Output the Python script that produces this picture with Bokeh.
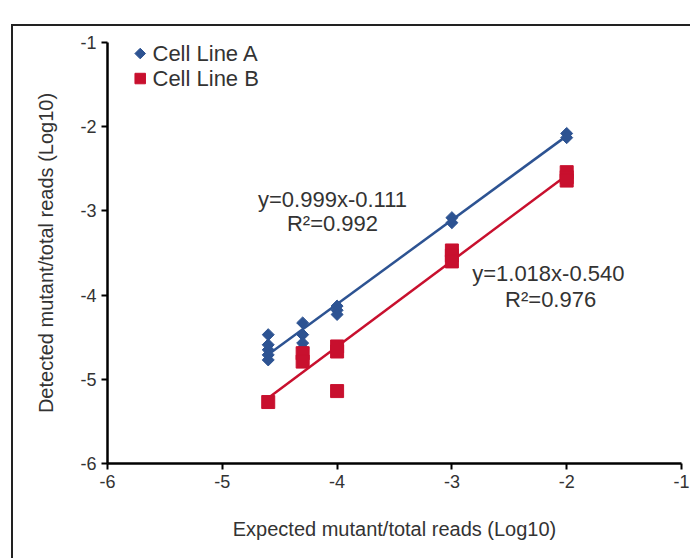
import math
from bokeh.plotting import figure
from bokeh.models import Range1d, Label, FixedTicker
from bokeh.embed import file_html
from bokeh.resources import INLINE

# Expected vs detected mutant fraction (log10), two cell lines
expected_a = [-4.6, -4.6, -4.6, -4.6, -4.6, -4.3, -4.3, -4.3, -4.3,
              -4.0, -4.0, -4.0, -3.0, -3.0, -2.0, -2.0]
detected_a = [-4.47, -4.59, -4.65, -4.71, -4.77, -4.33, -4.47, -4.57, -4.63,
              -4.13, -4.18, -4.23, -3.08, -3.14, -2.08, -2.13]

expected_b = [-4.6, -4.3, -4.3, -4.0, -4.0, -4.0, -3.0, -3.0, -3.0,
              -2.0, -2.0, -2.0]
detected_b = [-5.27, -4.69, -4.79, -4.61, -4.67, -5.14, -3.47, -3.53, -3.60,
              -2.54, -2.60, -2.64]

series_names = ["Cell Line A", "Cell Line B"]

# Linear fits reported on the chart
slope_a, intercept_a, r2_a = 0.999, -0.111, 0.992
slope_b, intercept_b, r2_b = 1.018, -0.540, 0.976
fit_x = [-4.6, -2.0]

ticks = [-6, -5, -4, -3, -2, -1]
tick_labels = {t: f"{t:d}" for t in ticks}   # plain hyphen-minus labels

BLUE = "#2d5392"
RED = "#c8102e"
TEXT = "#333333"
SANS = "Liberation Sans, Arial, sans-serif"

p = figure(width=679, height=534, output_backend="svg", toolbar_location=None,
           x_range=Range1d(-6, -1), y_range=Range1d(-6, -1),
           min_border_left=94, min_border_right=11,
           min_border_top=16, min_border_bottom=97)
# panel frame: dark rule on the top and left edges
p.styles = {"margin-left": "11px", "margin-top": "24px",
            "border-left": "2px solid #222222",
            "border-top": "2px solid #222222"}
p.outline_line_color = None
p.xgrid.visible = False
p.ygrid.visible = False
p.background_fill_color = "white"
p.border_fill_color = "white"

for ax in (p.xaxis[0], p.yaxis[0]):
    ax.ticker = FixedTicker(ticks=ticks)
    ax.major_label_overrides = tick_labels
    ax.minor_tick_line_color = None
    ax.axis_line_color = "black"
    ax.axis_line_width = 2.5
    ax.major_tick_line_color = "black"
    ax.major_tick_line_width = 2
    ax.major_tick_out = 6
    ax.major_tick_in = 0
    ax.major_label_text_font = SANS
    ax.major_label_text_font_size = "18px"
    ax.major_label_text_color = TEXT
    ax.axis_label_text_font = SANS
    ax.axis_label_text_font_size = "20px"
    ax.axis_label_text_font_style = "normal"
    ax.axis_label_text_color = TEXT
    ax.major_label_standoff = 5

p.xaxis.axis_label = "Expected mutant/total reads (Log10)"
p.yaxis.axis_label = "Detected mutant/total reads (Log10)"
p.xaxis.axis_label_standoff = 27
p.yaxis.axis_label_standoff = 20

# regression lines
fit_a = [slope_a * x + intercept_a for x in fit_x]
fit_b = [slope_b * x + intercept_b for x in fit_x]
p.line(fit_x, fit_a, line_color=BLUE, line_width=2.5)
p.line(fit_x, fit_b, line_color=RED, line_width=2.5)

# data points: blue diamonds (rotated squares) and red squares
diamond = dict(marker="square", angle=math.pi / 4, size=8.5,
               fill_color=BLUE, line_color=BLUE)
square = dict(marker="square", size=13, fill_color=RED, line_color=RED)
p.scatter(expected_a, detected_a, **diamond)
p.scatter(expected_b, detected_b, **square)

# key in the upper-left corner of the plot area
key_x, key_text_x = -5.715, -5.608
key_y = [-1.131, -1.428]
p.scatter([key_x], [key_y[0]], **dict(diamond, size=7.5))
p.scatter([key_x], [key_y[1]], **dict(square, size=10.5))
for name, ky in zip(series_names, key_y):
    p.add_layout(Label(x=key_text_x, y=ky, text=name, text_align="left",
                       text_baseline="middle", text_font=SANS,
                       text_font_size="22px", text_color=TEXT))

def eq_text(s, b):
    return f"y={s:.3f}x{b:+.3f}"

label_style = dict(text_align="center", text_baseline="middle",
                   text_font=SANS, text_font_size="22px", text_color=TEXT)
p.add_layout(Label(x=-4.04, y=-2.86, text=eq_text(slope_a, intercept_a),
                   **label_style))
p.add_layout(Label(x=-4.04, y=-3.15, text=f"R\u00b2={r2_a:.3f}",
                   **label_style))
p.add_layout(Label(x=-2.16, y=-3.74, text=eq_text(slope_b, intercept_b),
                   **label_style))
p.add_layout(Label(x=-2.14, y=-4.05, text=f"R\u00b2={r2_b:.3f}",
                   **label_style))

open("out.html", "w").write(file_html(p, INLINE))
